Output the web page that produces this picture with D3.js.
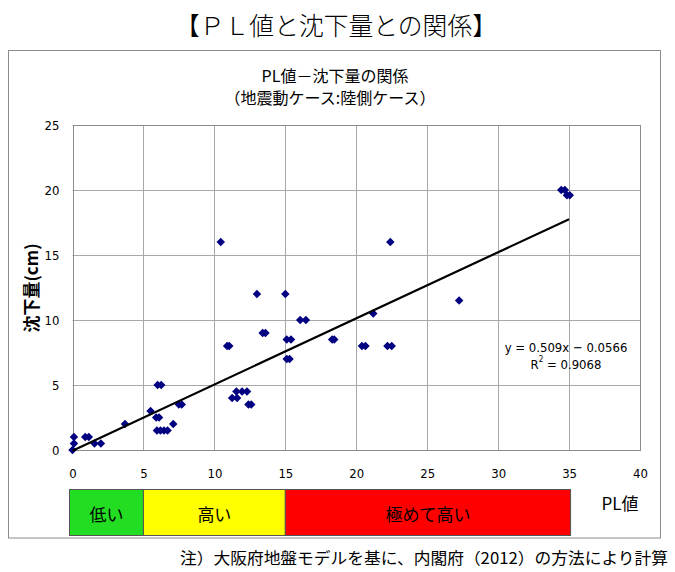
<!DOCTYPE html>
<html><head><meta charset="utf-8">
<script src="https://cdn.jsdelivr.net/npm/d3@7"></script>
<style>
body{margin:0;background:#fff;}
svg{display:block;}
</style></head>
<body>
<svg id="chart" width="675" height="572"></svg>
<script>
// ---- data ----
const plValues = [0,0.1,0.1,0.9,1.15,1.55,2.0,3.7,5.5,5.9,6.1,6.0,6.25,5.95,6.2,6.45,6.7,7.1,7.5,7.7,
  10.45,22.4,13.0,15.0,16.05,16.45,13.4,13.6,15.1,15.4,18.3,18.45,10.9,11.05,20.4,20.65,22.2,22.5,21.2,15.1,15.3,
  11.55,11.95,12.3,11.25,11.6,12.4,12.6,27.25,34.45,34.7,34.85,35.05];
const settlement = [0,0.5,1,1,1,0.5,0.5,2,3,2.5,2.5,5,5,1.5,1.5,1.5,1.5,2,3.5,3.5,
  16,16,12,12,10,10,9,9,8.5,8.5,8.5,8.5,8,8,8,8,8,8,10.5,7,7,
  4.5,4.5,4.5,4,4,3.5,3.5,11.5,20,20,19.6,19.6];
const xTicks = [0,5,10,15,20,25,30,35,40];
const yTicks = [0,5,10,15,20,25];
const trendSlope = 0.509, trendIntercept = -0.0566, trendR2 = "0.9068";
const trendRange = [0,35];
const bandLabels = ["低い","高い","極めて高い"];
const bandFrom = [0,5,15];
const bandTo = [5,15,35];
const bandColors = ["#22dd22","#ffff00","#ff0000"];
const mainTitle = "【ＰＬ値と沈下量との関係】";
const chartTitle1 = "PL値－沈下量の関係";
const chartTitle2 = "（地震動ケース:陸側ケース）";
const yLabel = "沈下量(cm)";
const xLabel = "PL値";
const footnote = "注）大阪府地盤モデルを基に、内閣府（2012）の方法により計算";

// ---- drawing ----
const svg = d3.select("#chart");
const jp = "'Noto Sans CJK JP','Noto Sans',sans-serif";
const num = "'Liberation Sans Narrow','DejaVu Sans Condensed','Liberation Sans',sans-serif";

svg.append("rect").attr("width",675).attr("height",572).attr("fill","#fff");

svg.append("text").attr("x",336).attr("y",24).attr("text-anchor","middle")
  .attr("dominant-baseline","central").attr("font-family",jp).attr("font-size",25)
  .attr("font-weight",300)
  .attr("textLength",322).attr("lengthAdjust","spacingAndGlyphs")
  .text(mainTitle);

// outer frame
svg.append("rect").attr("x",8.5).attr("y",50.5).attr("width",652).attr("height",487.5)
  .attr("fill","none").attr("stroke","#8c8c8c").attr("stroke-width",1);

svg.append("text").attr("x",335).attr("y",75).attr("text-anchor","middle")
  .attr("dominant-baseline","central").attr("font-family",jp).attr("font-size",16)
  .text(chartTitle1);
svg.append("text").attr("x",330).attr("y",97).attr("text-anchor","middle")
  .attr("dominant-baseline","central").attr("font-family",jp).attr("font-size",16)
  .text(chartTitle2);

const x = d3.scaleLinear().domain([0,40]).range([72.5,640]);
const y = d3.scaleLinear().domain([0,25]).range([450,125]);

// grid
const g = svg.append("g");
g.selectAll("line.v").data(xTicks).join("line")
  .attr("x1",d=>Math.round(x(d))+0.5).attr("x2",d=>Math.round(x(d))+0.5)
  .attr("y1",y(25)).attr("y2",y(0)).attr("stroke","#a8a8a8");
g.selectAll("line.h").data(yTicks).join("line")
  .attr("y1",d=>Math.round(y(d))+0.5).attr("y2",d=>Math.round(y(d))+0.5)
  .attr("x1",x(0)).attr("x2",x(40)).attr("stroke","#a8a8a8");
g.append("rect").attr("x",Math.round(x(0))+0.5).attr("y",Math.round(y(25))+0.5)
  .attr("width",Math.round(x(40))-Math.round(x(0))).attr("height",Math.round(y(0))-Math.round(y(25)))
  .attr("fill","none").attr("stroke","#8c8c8c");

// axes (labels only)
const ax = svg.append("g").attr("transform",`translate(0,${y(0)})`)
  .call(d3.axisBottom(x).tickValues(xTicks).tickSize(0).tickFormat(d3.format("d")));
ax.select(".domain").remove();
ax.selectAll("text").attr("y",23).attr("dy","0.35em").attr("font-family",num).attr("font-size",13).attr("fill","#000");
const ay = svg.append("g").attr("transform",`translate(${x(0)},0)`)
  .call(d3.axisLeft(y).tickValues(yTicks).tickSize(0).tickFormat(d3.format("d")));
ay.select(".domain").remove();
ay.selectAll("text").attr("x",-13).attr("dy","0.35em").attr("font-family",num).attr("font-size",13).attr("fill","#000");

svg.append("text").attr("transform","translate(30,288) rotate(-90)").attr("text-anchor","middle")
  .attr("dominant-baseline","central").attr("font-family",jp).attr("font-size",17).attr("font-weight","bold")
  .text(yLabel);

// points
const pts = plValues.map((v,i)=>({x:v,y:settlement[i]}));
svg.append("g").selectAll("path").data(pts).join("path")
  .attr("d",d3.symbol(d3.symbolSquare,36))
  .attr("transform",d=>`translate(${x(d.x)},${y(d.y)}) rotate(45)`)
  .attr("fill","#000080");

// trend line
const line = d3.line().x(d=>x(d)).y(d=>y(trendSlope*d+trendIntercept));
svg.append("path").datum(trendRange).attr("d",line).attr("fill","none")
  .attr("stroke","#000").attr("stroke-width",2.2);

const eq = svg.append("g").attr("font-family",num).attr("font-size",13).attr("text-anchor","middle");
eq.append("text").attr("x",566).attr("y",347).attr("dominant-baseline","central")
  .text(`y = ${trendSlope}x − ${Math.abs(trendIntercept)}`);
const r2 = eq.append("text").attr("x",566).attr("y",364).attr("dominant-baseline","central");
r2.append("tspan").text("R");
r2.append("tspan").attr("font-size",8).attr("dy",-5).text("2");
r2.append("tspan").attr("dy",5).text(" = " + trendR2);

// bands
const bands = bandLabels.map((l,i)=>({label:l,from:bandFrom[i],to:bandTo[i],color:bandColors[i]}));
const bx0 = d => d.from===0 ? 69.5 : x(d.from);
const bx1 = d => d.to===35 ? x(d.to)+1.5 : x(d.to);
const bg = svg.append("g");
bg.selectAll("rect").data(bands).join("rect")
  .attr("x",bx0).attr("y",489.5)
  .attr("width",d=>bx1(d)-bx0(d)).attr("height",46)
  .attr("fill",d=>d.color).attr("stroke","#555").attr("stroke-width",1);
bg.selectAll("text").data(bands).join("text")
  .attr("x",d=>(bx0(d)+bx1(d))/2).attr("y",513)
  .attr("text-anchor","middle").attr("dominant-baseline","central")
  .attr("font-family",jp).attr("font-size",17).text(d=>d.label);

svg.append("text").attr("x",620).attr("y",502).attr("text-anchor","middle")
  .attr("dominant-baseline","central").attr("font-family",jp).attr("font-size",17)
  .text(xLabel);

svg.append("text").attr("x",668).attr("y",557).attr("text-anchor","end")
  .attr("dominant-baseline","central").attr("font-family",jp).attr("font-size",16)
  .attr("textLength",488).attr("lengthAdjust","spacingAndGlyphs")
  .text(footnote);
</script>
</body></html>
